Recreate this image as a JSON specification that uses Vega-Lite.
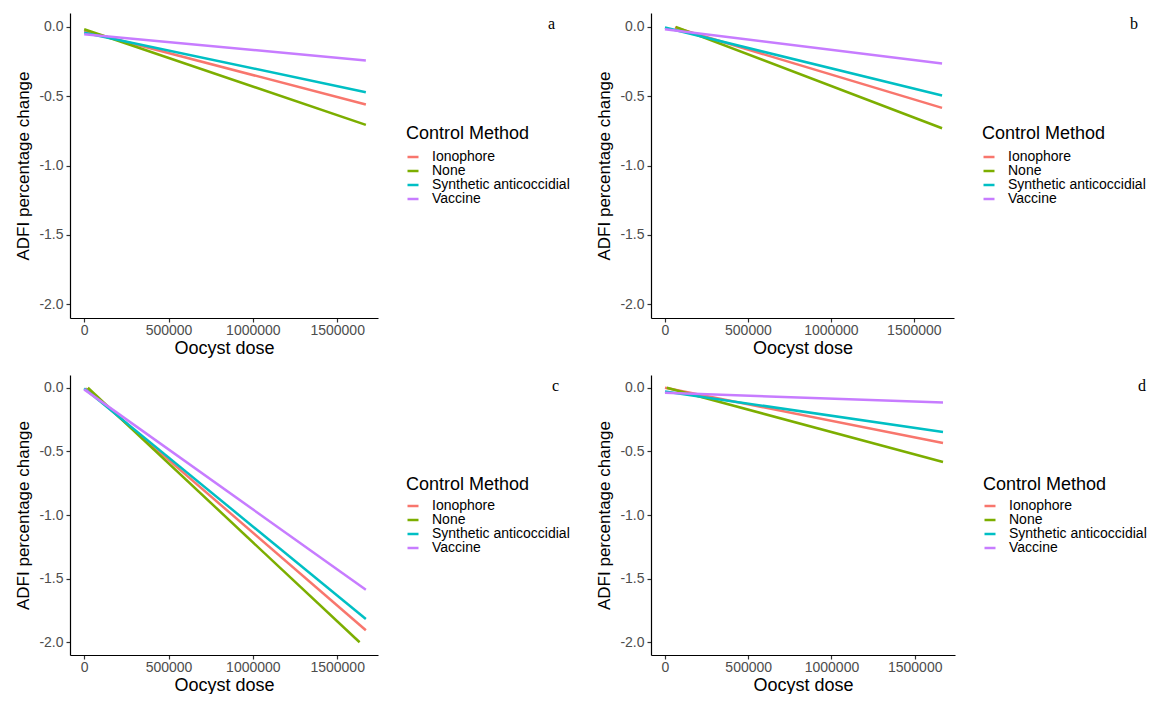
{
  "$schema": "https://vega.github.io/schema/vega-lite/v6.json",
  "padding": {"left": 14, "top": 13, "right": 0, "bottom": 0},
  "autosize": {"type": "pad"},
  "datasets": {
    "lines": [
      {"panel": "a", "method": "Ionophore", "dose": 0, "change": -0.03},
      {"panel": "a", "method": "Ionophore", "dose": 1670000, "change": -0.56},
      {"panel": "a", "method": "None", "dose": 0, "change": -0.017},
      {"panel": "a", "method": "None", "dose": 1670000, "change": -0.707},
      {"panel": "a", "method": "Synthetic anticoccidial", "dose": 0, "change": -0.042},
      {"panel": "a", "method": "Synthetic anticoccidial", "dose": 1670000, "change": -0.471},
      {"panel": "a", "method": "Vaccine", "dose": 0, "change": -0.053},
      {"panel": "a", "method": "Vaccine", "dose": 1670000, "change": -0.243},
      {"panel": "b", "method": "Ionophore", "dose": 60000, "change": -0.005},
      {"panel": "b", "method": "Ionophore", "dose": 1670000, "change": -0.584},
      {"panel": "b", "method": "None", "dose": 65000, "change": 0.0},
      {"panel": "b", "method": "None", "dose": 1670000, "change": -0.731},
      {"panel": "b", "method": "Synthetic anticoccidial", "dose": 0, "change": -0.005},
      {"panel": "b", "method": "Synthetic anticoccidial", "dose": 1670000, "change": -0.495},
      {"panel": "b", "method": "Vaccine", "dose": 0, "change": -0.017},
      {"panel": "b", "method": "Vaccine", "dose": 1670000, "change": -0.264},
      {"panel": "c", "method": "Ionophore", "dose": 10000, "change": -0.005},
      {"panel": "c", "method": "Ionophore", "dose": 1670000, "change": -1.906},
      {"panel": "c", "method": "None", "dose": 22000, "change": 0.0},
      {"panel": "c", "method": "None", "dose": 1633000, "change": -2.0},
      {"panel": "c", "method": "Synthetic anticoccidial", "dose": 0, "change": -0.005},
      {"panel": "c", "method": "Synthetic anticoccidial", "dose": 1670000, "change": -1.817},
      {"panel": "c", "method": "Vaccine", "dose": 0, "change": -0.013},
      {"panel": "c", "method": "Vaccine", "dose": 1670000, "change": -1.587},
      {"panel": "d", "method": "Ionophore", "dose": 0, "change": 0.0},
      {"panel": "d", "method": "Ionophore", "dose": 1670000, "change": -0.435},
      {"panel": "d", "method": "None", "dose": 11000, "change": 0.0},
      {"panel": "d", "method": "None", "dose": 1670000, "change": -0.584},
      {"panel": "d", "method": "Synthetic anticoccidial", "dose": 0, "change": -0.03},
      {"panel": "d", "method": "Synthetic anticoccidial", "dose": 1670000, "change": -0.347},
      {"panel": "d", "method": "Vaccine", "dose": 0, "change": -0.04},
      {"panel": "d", "method": "Vaccine", "dose": 1670000, "change": -0.117}
    ]
  },
  "data": {"name": "lines"},
  "columns": 2,
  "spacing": {"row": 18, "column": 25},
  "resolve": {"scale": {"color": "independent", "x": "independent", "y": "independent"}, "legend": {"color": "independent"}, "axis": {"x": "independent", "y": "independent"}},
  "concat": [
    {
      "width": 308, "height": 305,
      "title": {"text": "a", "anchor": "end", "frame": "group", "dx": 177, "dy": 22.5, "font": "Liberation Serif", "fontSize": 16, "fontWeight": "normal", "color": "black"},
      "transform": [{"filter": "datum.panel === 'a'"}],
      "mark": {"type": "line", "strokeWidth": 2.5},
      "encoding": {
        "x": {"field": "dose", "type": "quantitative", "scale": {"domain": [-84000, 1742000], "nice": false, "zero": false}, "axis": {"title": "Oocyst dose", "values": [0, 500000, 1000000, 1500000], "format": "d"}},
        "y": {"field": "change", "type": "quantitative", "scale": {"domain": [-2.1, 0.1], "nice": false, "zero": false}, "axis": {"title": "ADFI percentage change", "values": [-2, -1.5, -1, -0.5, 0], "labelExpr": "replace(format(datum.value, '.1f'), '\u2212', '-')"}},
        "color": {"field": "method", "type": "nominal", "scale": {"domain": ["Ionophore", "None", "Synthetic anticoccidial", "Vaccine"], "range": ["#F8766D", "#7CAE00", "#00BFC4", "#C77CFF"]}, "legend": {"title": "Control Method"}}
      }
    },
    {
      "width": 303, "height": 305,
      "title": {"text": "b", "anchor": "end", "frame": "group", "dx": 184, "dy": 22.5, "font": "Liberation Serif", "fontSize": 16, "fontWeight": "normal", "color": "black"},
      "transform": [{"filter": "datum.panel === 'b'"}],
      "mark": {"type": "line", "strokeWidth": 2.5},
      "encoding": {
        "x": {"field": "dose", "type": "quantitative", "scale": {"domain": [-84000, 1742000], "nice": false, "zero": false}, "axis": {"title": "Oocyst dose", "values": [0, 500000, 1000000, 1500000], "format": "d"}},
        "y": {"field": "change", "type": "quantitative", "scale": {"domain": [-2.1, 0.1], "nice": false, "zero": false}, "axis": {"title": "ADFI percentage change", "values": [-2, -1.5, -1, -0.5, 0], "labelExpr": "replace(format(datum.value, '.1f'), '\u2212', '-')"}},
        "color": {"field": "method", "type": "nominal", "scale": {"domain": ["Ionophore", "None", "Synthetic anticoccidial", "Vaccine"], "range": ["#F8766D", "#7CAE00", "#00BFC4", "#C77CFF"]}, "legend": {"title": "Control Method"}}
      }
    },
    {
      "width": 308, "height": 280,
      "title": {"text": "c", "anchor": "end", "frame": "group", "dx": 181, "dy": 22.5, "font": "Liberation Serif", "fontSize": 16, "fontWeight": "normal", "color": "black"},
      "transform": [{"filter": "datum.panel === 'c'"}],
      "mark": {"type": "line", "strokeWidth": 2.5},
      "encoding": {
        "x": {"field": "dose", "type": "quantitative", "scale": {"domain": [-84000, 1742000], "nice": false, "zero": false}, "axis": {"title": "Oocyst dose", "values": [0, 500000, 1000000, 1500000], "format": "d"}},
        "y": {"field": "change", "type": "quantitative", "scale": {"domain": [-2.1, 0.1], "nice": false, "zero": false}, "axis": {"title": "ADFI percentage change", "values": [-2, -1.5, -1, -0.5, 0], "labelExpr": "replace(format(datum.value, '.1f'), '\u2212', '-')"}},
        "color": {"field": "method", "type": "nominal", "scale": {"domain": ["Ionophore", "None", "Synthetic anticoccidial", "Vaccine"], "range": ["#F8766D", "#7CAE00", "#00BFC4", "#C77CFF"]}, "legend": {"title": "Control Method", "titlePadding": 5}}
      }
    },
    {
      "width": 304, "height": 280,
      "title": {"text": "d", "anchor": "end", "frame": "group", "dx": 191, "dy": 22.5, "font": "Liberation Serif", "fontSize": 16, "fontWeight": "normal", "color": "black"},
      "transform": [{"filter": "datum.panel === 'd'"}],
      "mark": {"type": "line", "strokeWidth": 2.5},
      "encoding": {
        "x": {"field": "dose", "type": "quantitative", "scale": {"domain": [-84000, 1742000], "nice": false, "zero": false}, "axis": {"title": "Oocyst dose", "values": [0, 500000, 1000000, 1500000], "format": "d"}},
        "y": {"field": "change", "type": "quantitative", "scale": {"domain": [-2.1, 0.1], "nice": false, "zero": false}, "axis": {"title": "ADFI percentage change", "values": [-2, -1.5, -1, -0.5, 0], "labelExpr": "replace(format(datum.value, '.1f'), '\u2212', '-')"}},
        "color": {"field": "method", "type": "nominal", "scale": {"domain": ["Ionophore", "None", "Synthetic anticoccidial", "Vaccine"], "range": ["#F8766D", "#7CAE00", "#00BFC4", "#C77CFF"]}, "legend": {"title": "Control Method", "titlePadding": 5}}
      }
    }
  ],
  "config": {
    "view": {"stroke": null},
    "font": "Liberation Sans",
    "axis": {"grid": false, "domainColor": "black", "domainWidth": 1.2, "tickColor": "#333333", "tickWidth": 1.2, "tickSize": 4, "labelColor": "#4D4D4D", "labelFontSize": 14, "labelFont": "Liberation Sans", "titleFont": "Liberation Sans", "titleFontWeight": "normal", "titleColor": "black", "labelPadding": 3},
    "axisX": {"titleFontSize": 18, "titlePadding": 2, "labelFlush": false, "labelPadding": 1},
    "axisY": {"titleFontSize": 17, "titlePadding": 6},
    "legend": {"titleFontSize": 18, "titleFontWeight": "normal", "titleColor": "black", "titleFont": "Liberation Sans", "labelFont": "Liberation Sans", "labelFontSize": 14, "labelColor": "black", "symbolType": "stroke", "symbolStrokeWidth": 2.5, "symbolSize": 121, "rowPadding": 0, "titlePadding": 7, "offset": 28, "labelOffset": 12, "padding": 0, "layout": {"right": {"anchor": "middle"}}}
  }
}
